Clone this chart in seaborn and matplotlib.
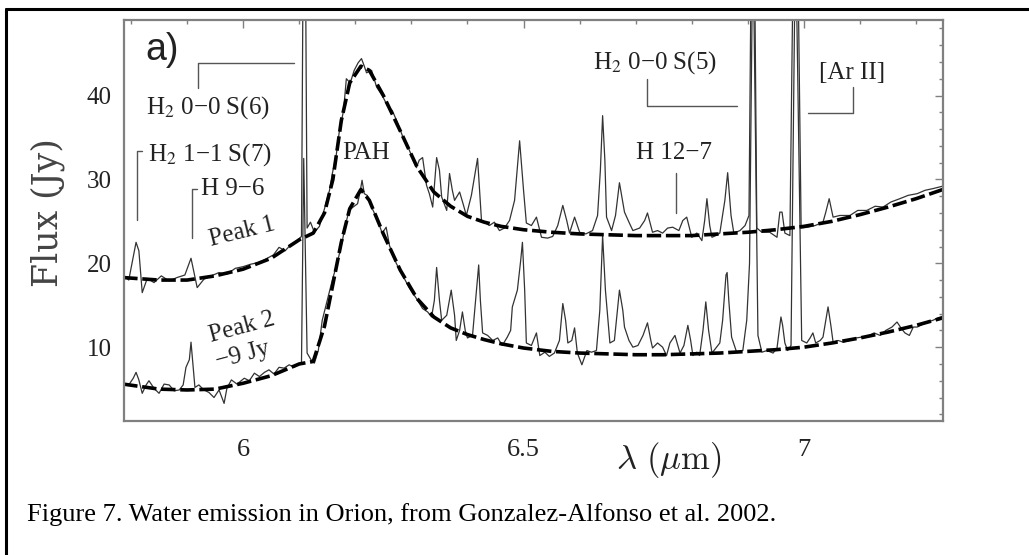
import numpy as np
import pandas as pd
import matplotlib as mpl
import matplotlib.pyplot as plt
import seaborn as sns

# Peak 1 spectrum (Jy)
wl_peak1 = [5.786, 5.796, 5.809, 5.814, 5.820, 5.829, 5.841, 5.854, 5.868, 5.882,
            5.896, 5.907, 5.918, 5.930, 5.943, 5.957, 5.971, 5.986, 6.000, 6.014,
            6.029, 6.043, 6.054, 6.064, 6.075, 6.086, 6.096, 6.104, 6.109, 6.114,
            6.120, 6.127, 6.136, 6.145, 6.154, 6.159, 6.166, 6.171, 6.179, 6.184,
            6.191, 6.198, 6.205, 6.211, 6.216, 6.220, 6.229, 6.238, 6.248, 6.257,
            6.266, 6.275, 6.284, 6.291, 6.300, 6.309, 6.314, 6.320, 6.327, 6.332,
            6.338, 6.345, 6.350, 6.354, 6.363, 6.368, 6.373, 6.377, 6.386, 6.393,
            6.398, 6.407, 6.418, 6.425, 6.439, 6.448, 6.457, 6.466, 6.475, 6.484,
            6.493, 6.500, 6.505, 6.514, 6.523, 6.532, 6.543, 6.552, 6.561, 6.570,
            6.577, 6.582, 6.591, 6.600, 6.611, 6.623, 6.632, 6.637, 6.641, 6.645,
            6.648, 6.657, 6.664, 6.671, 6.680, 6.688, 6.695, 6.707, 6.716, 6.721,
            6.730, 6.739, 6.748, 6.757, 6.766, 6.777, 6.784, 6.791, 6.800, 6.809,
            6.818, 6.823, 6.827, 6.832, 6.836, 6.843, 6.850, 6.859, 6.864, 6.870,
            6.875, 6.886, 6.895, 6.902, 6.909, 6.916, 6.925, 6.939, 6.952, 6.957,
            6.961, 6.966, 6.975, 6.985, 6.995, 7.007, 7.020, 7.034, 7.039, 7.045,
            7.052, 7.064, 7.082, 7.096, 7.112, 7.127, 7.141, 7.155, 7.171, 7.186,
            7.202, 7.216, 7.230, 7.248]
flux_peak1 = [18.6, 18.0, 22.5, 21.5, 16.5, 18.2, 17.7, 18.5, 17.9, 18.3,
              18.6, 20.6, 17.1, 18.1, 18.5, 18.9, 18.7, 19.4, 19.6, 19.9,
              20.1, 20.6, 21.0, 21.9, 21.5, 22.3, 22.7, 23.2, 80.0, 24.2,
              24.9, 23.7, 24.4, 26.5, 28.7, 30.7, 32.9, 35.5, 38.2, 42.0,
              41.5, 43.0, 43.9, 44.4, 43.5, 42.7, 43.0, 41.0, 40.0, 38.8,
              38.2, 36.8, 35.2, 34.3, 32.9, 31.4, 32.3, 32.6, 29.3, 28.3,
              26.7, 32.6, 31.1, 27.9, 26.3, 30.7, 28.7, 27.5, 28.5, 26.9,
              25.7, 28.1, 32.5, 25.1, 24.5, 24.9, 23.9, 24.2, 25.1, 27.5,
              34.6, 28.7, 24.8, 24.5, 25.5, 23.1, 23.0, 23.2, 24.5, 26.9,
              25.1, 23.6, 25.5, 23.7, 23.5, 23.9, 25.7, 31.1, 37.6, 32.3,
              25.5, 23.9, 25.7, 29.6, 26.1, 24.9, 23.9, 24.2, 25.1, 26.0,
              23.7, 23.9, 23.6, 24.2, 24.3, 23.9, 25.1, 25.5, 23.1, 23.6,
              22.7, 25.1, 27.7, 24.5, 23.1, 23.3, 23.6, 27.5, 30.8, 25.7,
              23.6, 23.9, 24.5, 25.7, 80.0, 24.2, 23.7, 23.7, 23.1, 26.1,
              26.1, 23.6, 23.3, 80.0, 24.2, 24.3, 24.5, 24.9, 26.1, 27.7,
              25.5, 25.7, 25.7, 26.3, 26.3, 26.8, 26.7, 27.3, 27.7, 28.1,
              28.3, 28.7, 28.9, 29.2]

# Peak 2 spectrum, shifted by -9 Jy
wl_peak2 = [5.786, 5.796, 5.804, 5.809, 5.814, 5.820, 5.827, 5.832, 5.841, 5.850,
            5.859, 5.868, 5.877, 5.886, 5.893, 5.898, 5.904, 5.907, 5.911, 5.914,
            5.921, 5.930, 5.939, 5.948, 5.957, 5.966, 5.971, 5.979, 5.989, 6.002,
            6.011, 6.020, 6.029, 6.038, 6.046, 6.055, 6.064, 6.073, 6.082, 6.091,
            6.098, 6.104, 6.108, 6.114, 6.121, 6.127, 6.134, 6.141, 6.150, 6.159,
            6.168, 6.177, 6.182, 6.189, 6.196, 6.204, 6.209, 6.212, 6.216, 6.221,
            6.229, 6.238, 6.248, 6.255, 6.261, 6.273, 6.284, 6.296, 6.309, 6.320,
            6.329, 6.336, 6.341, 6.345, 6.350, 6.354, 6.363, 6.371, 6.377, 6.380,
            6.386, 6.391, 6.396, 6.400, 6.409, 6.416, 6.420, 6.423, 6.427, 6.436,
            6.445, 6.454, 6.462, 6.471, 6.477, 6.480, 6.489, 6.495, 6.498, 6.502,
            6.505, 6.514, 6.523, 6.529, 6.538, 6.546, 6.555, 6.564, 6.570, 6.575,
            6.579, 6.586, 6.591, 6.596, 6.604, 6.613, 6.621, 6.630, 6.636, 6.641,
            6.646, 6.654, 6.662, 6.671, 6.677, 6.680, 6.688, 6.695, 6.704, 6.713,
            6.721, 6.727, 6.730, 6.739, 6.748, 6.755, 6.761, 6.770, 6.779, 6.786,
            6.793, 6.798, 6.802, 6.809, 6.814, 6.820, 6.825, 6.830, 6.836, 6.843,
            6.850, 6.855, 6.861, 6.863, 6.866, 6.871, 6.880, 6.891, 6.898, 6.903,
            6.909, 6.918, 6.925, 6.934, 6.945, 6.952, 6.959, 6.962, 6.966, 6.971,
            6.977, 6.985, 6.996, 7.005, 7.011, 7.016, 7.021, 7.029, 7.034, 7.039,
            7.043, 7.048, 7.052, 7.061, 7.070, 7.082, 7.093, 7.104, 7.114, 7.125,
            7.136, 7.146, 7.157, 7.166, 7.173, 7.180, 7.188, 7.195, 7.202, 7.211,
            7.220, 7.230, 7.239, 7.248]
flux_peak2 = [5.7, 5.5, 6.3, 7.0, 6.1, 4.5, 5.5, 6.0, 5.1, 4.5,
              5.6, 5.5, 4.8, 4.9, 5.5, 7.6, 8.5, 10.6, 7.5, 5.2,
              5.5, 4.9, 4.6, 4.0, 4.9, 3.3, 5.1, 6.1, 5.6, 6.3,
              6.0, 6.9, 6.5, 7.0, 7.3, 6.8, 7.6, 7.5, 7.9, 7.6,
              8.0, 8.1, 32.5, 9.3, 8.5, 8.1, 9.6, 13.2, 15.6, 18.0,
              20.1, 22.7, 24.5, 26.3, 26.7, 27.1, 28.7, 29.9, 28.3, 28.1,
              26.7, 25.4, 23.6, 24.3, 22.1, 20.0, 18.6, 17.1, 15.8, 14.6,
              14.2, 13.6, 15.6, 19.5, 15.6, 13.2, 13.8, 16.8, 13.8, 10.8,
              12.0, 14.2, 12.0, 11.1, 11.4, 16.8, 19.8, 15.6, 11.7, 11.4,
              10.8, 11.1, 10.2, 11.2, 12.0, 14.8, 16.8, 20.4, 22.5, 16.8,
              10.5, 10.2, 11.7, 9.0, 9.4, 8.9, 9.3, 10.8, 15.2, 13.2,
              10.5, 10.8, 12.3, 9.3, 7.9, 9.6, 9.4, 9.6, 14.4, 23.3,
              16.8, 10.5, 10.8, 16.8, 14.4, 12.4, 10.8, 10.0, 10.2, 11.4,
              12.9, 10.8, 9.9, 10.5, 10.0, 9.0, 10.5, 11.4, 9.3, 10.2,
              12.6, 10.8, 9.0, 9.4, 9.0, 12.0, 15.4, 12.0, 9.3, 9.9,
              10.5, 13.2, 18.6, 18.9, 15.6, 11.2, 9.4, 9.6, 13.2, 20.0,
              60.0, 11.4, 9.4, 9.6, 9.3, 9.9, 13.6, 12.6, 10.5, 9.6,
              10.2, 60.0, 10.8, 10.5, 11.1, 11.7, 10.5, 10.8, 11.2, 13.2,
              14.8, 12.6, 10.6, 10.8, 10.6, 10.8, 11.1, 11.2, 11.3, 11.7,
              11.4, 12.0, 12.4, 13.0, 12.3, 11.7, 11.4, 12.4, 12.4, 12.7,
              13.0, 13.2, 13.5, 13.7]

# continuum + PAH fits (dashed)
wl_cont = [5.786, 5.85, 5.90, 5.95, 6.00, 6.05, 6.10, 6.125, 6.145, 6.16,
           6.175, 6.19, 6.21, 6.225, 6.25, 6.28, 6.31, 6.34, 6.37, 6.40,
           6.43, 6.46, 6.50, 6.55, 6.60, 6.65, 6.70, 6.75, 6.80, 6.85,
           6.90, 6.95, 7.00, 7.05, 7.10, 7.15, 7.20, 7.248]
cont_peak1 = [18.3, 18.0, 18.0, 18.5, 19.3, 20.6, 22.8, 23.6, 26.0, 30.0,
              37.0, 41.5, 43.5, 43.0, 40.0, 35.8, 31.5, 28.5, 26.8, 25.6,
              24.9, 24.4, 24.0, 23.7, 23.5, 23.4, 23.3, 23.3, 23.3, 23.5,
              23.7, 24.0, 24.4, 25.0, 25.8, 26.7, 27.7, 28.8]
cont_peak2 = [5.6, 5.0, 4.9, 5.0, 5.7, 6.6, 8.0, 8.3, 12.5, 17.5,
              22.5, 26.5, 28.8, 27.5, 23.5, 19.2, 15.8, 13.6, 12.3, 11.5,
              10.9, 10.4, 9.9, 9.5, 9.3, 9.2, 9.1, 9.1, 9.2, 9.3,
              9.5, 9.7, 10.0, 10.5, 11.1, 11.8, 12.6, 13.5]

xticks = [6.0, 6.5, 7.0]
xticklabels = ['6', '6.5', '7']
yticks = [10, 20, 30, 40]

sns.set_style('white')
plt.rcParams['font.family'] = ['Liberation Serif', 'DejaVu Serif']
plt.rcParams['mathtext.fontset'] = 'stix'

fig = plt.figure(figsize=(10.29, 5.55), dpi=100)
ax = fig.add_axes([124 / 1029, 1 - 421 / 555, 819 / 1029, 401 / 555])

spec_col = '#333333'
sns.lineplot(x=wl_peak1, y=flux_peak1, ax=ax, sort=False, estimator=None,
             color=spec_col, lw=0.9)
sns.lineplot(x=wl_peak2, y=flux_peak2, ax=ax, sort=False, estimator=None,
             color=spec_col, lw=0.9)
sns.lineplot(x=wl_cont, y=cont_peak1, ax=ax, sort=False, estimator=None,
             color='black', lw=2.6, ls=(0, (4, 1.3)))
sns.lineplot(x=wl_cont, y=cont_peak2, ax=ax, sort=False, estimator=None,
             color='black', lw=2.6, ls=(0, (4, 1.3)))

ax.set_xlim(5.7875, 7.248)
ax.set_ylim(1.2, 49)

# axes cosmetics
spine_col = '#808080'
for s in ax.spines.values():
    s.set_color(spine_col)
    s.set_linewidth(1.6)
ax.set_xticks(xticks)
ax.set_xticklabels(xticklabels)
ax.set_xticks(np.arange(5.8, 7.25, 0.1), minor=True)
ax.set_yticks(yticks)
ax.set_yticks(np.arange(2, 49, 2), minor=True)
ax.tick_params(which='both', direction='in', top=True, right=True, color=spine_col, width=1.0)
ax.tick_params(which='major', length=6)
ax.tick_params(which='minor', length=3)
ax.tick_params(axis='x', labelsize=19, pad=13, labelcolor='#222222')
ax.tick_params(axis='y', labelsize=18, pad=9, labelcolor='#222222')

ax.set_xlabel(r'$\lambda\ (\mu{\rm m})$', fontsize=25, math_fontfamily='cm', color='#222222')
ax.xaxis.label.set_va('center')
ax.xaxis.set_label_coords((669 - 124) / 819, (421 - 460) / 401)
ax.set_ylabel('Flux (Jy)', fontsize=25, family='DejaVu Serif', color='#444444')
ax.yaxis.label.set_va('center')
ax.yaxis.set_label_coords((48 - 124) / 819, (421 - 213) / 401)

# line identifications
tc = '#222222'
lc = '#555555'
fs = 18
ax.text(5.855, 45.4, 'a)', fontsize=27, family='Liberation Sans', ha='center', va='center', color=tc)
ax.text(5.938, 38.6, r'H$_2$ 0−0 S(6)', fontsize=fs, ha='center', va='center', color=tc)
ax.plot([5.920, 5.920, 6.091], [40.9, 43.9, 43.9], color=lc, lw=1.0)
ax.text(5.940, 33.0, r'H$_2$ 1−1 S(7)', fontsize=fs, ha='center', va='center', color=tc)
ax.plot([5.811, 5.811, 5.820], [25.1, 33.4, 33.4], color=lc, lw=1.0)
ax.text(5.981, 28.9, 'H 9−6', fontsize=fs, ha='center', va='center', color=tc)
ax.plot([5.909, 5.909, 5.918], [23.0, 28.9, 28.9], color=lc, lw=1.0)
ax.text(6.2196, 33.1, 'PAH', fontsize=fs, ha='center', va='center', color=tc)
ax.text(6.734, 43.9, r'H$_2$ 0−0 S(5)', fontsize=fs, ha='center', va='center', color=tc)
ax.plot([6.720, 6.720, 6.880], [42.0, 38.8, 38.8], color=lc, lw=1.0)
ax.text(7.086, 42.7, '[Ar II]', fontsize=fs, ha='center', va='center', color=tc)
ax.plot([7.0875, 7.0875, 7.007], [41.0, 37.9, 37.9], color=lc, lw=1.0)
ax.text(6.768, 33.1, 'H 12−7', fontsize=fs, ha='center', va='center', color=tc)
ax.plot([6.771, 6.771], [30.8, 26.0], color=lc, lw=1.0)
ax.text(5.998, 23.7, 'Peak 1', fontsize=fs, ha='center', va='center', rotation=14, color=tc)
ax.text(5.998, 12.3, 'Peak 2', fontsize=fs, ha='center', va='center', rotation=15, color=tc)
ax.text(6.000, 9.05, '−9 Jy', fontsize=fs, ha='center', va='center', rotation=15, color=tc)

# caption and outer frame
fig.text(27 / 1029, 1 - 515 / 555, 'Figure 7. Water emission in Orion, from Gonzalez-Alfonso et al. 2002.',
         fontsize=19, ha='left', va='center', color='black')
fx = 6 / 1029
fy = 1 - 8.5 / 555
fig.add_artist(mpl.lines.Line2D([fx, fx], [0, fy], color='black', lw=2.2, transform=fig.transFigure))
fig.add_artist(mpl.lines.Line2D([fx, 1.0], [fy, fy], color='black', lw=2.2, transform=fig.transFigure))

fig.savefig('out.png', dpi=100)
